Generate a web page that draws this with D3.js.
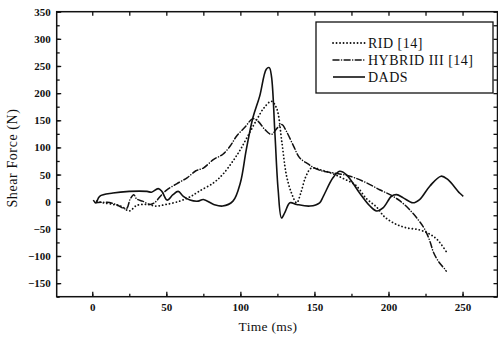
<!DOCTYPE html>
<html>
<head>
<meta charset="utf-8">
<script src="https://cdn.jsdelivr.net/npm/d3@7"></script>
<style>
  body { margin: 0; background: #fff; }
  text { font-family: "Liberation Serif", "Times New Roman", serif; fill: #111; }
</style>
</head>
<body>
<script>
// time (ms) / shear force (N)
const ridT = [3, 7, 14, 20, 25, 30, 37, 43, 50, 59, 66, 72, 82, 88, 95, 100, 105, 111, 116, 121, 124.5, 128, 131, 134.5, 138, 141, 144, 148, 155, 162, 170, 178, 185, 192, 197, 204, 212, 221, 228, 233, 239];
const ridV = [1, -2, -5, -9, -17, -7, -5, -8, -5, 1, 9, 19, 35, 50, 75, 96, 121, 151, 173, 185, 172, 110, 50, 16, -2, 18, 45, 62, 58, 52, 42, 30, 6, -10, -27, -40, -48, -52, -60, -70, -92];

const hybT = [2, 10, 16, 23, 25.5, 28, 30, 34, 39, 42, 46, 50, 57, 64, 70, 75, 82, 88, 93, 97.5, 103, 108.5, 112, 116.5, 121, 125, 128, 131, 136, 140, 146, 150, 156, 163, 174, 185, 194, 201, 208, 214, 220, 224.5, 228, 230.5, 234.5, 238, 239];
const hybV = [-2, -1, -5, -13, 4, 13, 5, 1, -5, -2, 10, 21, 33, 44, 57, 62, 78, 87, 102, 121, 137, 153, 148, 133, 124, 136, 142, 130, 102, 81, 69, 62, 56, 53, 47, 35, 22, 13, 1, -14, -33, -51, -73, -94, -113, -124, -128];

const dadsT = [0.7, 2.5, 5, 14, 25, 37, 40, 44.5, 47, 50.5, 54.5, 58, 61.5, 66, 71.5, 75, 82, 88, 95, 100, 104, 108.5, 113, 117.5, 119.5, 121, 123.3, 125.5, 127.8, 130, 133.5, 138, 147, 153.5, 156, 162.5, 167, 171.5, 180.5, 187.5, 192, 196.5, 202, 205.5, 210, 216.5, 221, 228, 235.5, 240, 248, 250.5];
const dadsV = [3, -2, 10, 16, 19, 19, 17.5, 24, 19, 3, 13, 19, 10, 3, 1, 4, -5, -8, 1, 35, 96, 155, 194, 244, 247, 231, 127, 22, -30, -20, -2, -5, -8, -2, 10, 44, 56, 50, 16, -8, -17, -11, 10, 13, 7, -2, 4, 29, 47, 41, 16, 10];

const seriesNames = ["RID [14]", "HYBRID III [14]", "DADS"];
const xTicks = [0, 50, 100, 150, 200, 250];
const yTicks = [-150, -100, -50, 0, 50, 100, 150, 200, 250, 300, 350];

const width = 498, height = 339;
const plot = { left: 56.7, right: 497.5, top: 11.7, bottom: 296.7 };

const svg = d3.select("body").append("svg")
  .attr("width", width)
  .attr("height", height);

const x = d3.scaleLinear().domain([-24, 273.6]).range([plot.left, plot.right]);
const y = d3.scaleLinear().domain([-175, 350]).range([plot.bottom, plot.top]);

const minorX = d3.range(0, 275, 25);
const minorY = d3.range(-175, 351, 25);

// frame
svg.append("rect")
  .attr("x", plot.left).attr("y", plot.top)
  .attr("width", plot.right - plot.left).attr("height", plot.bottom - plot.top)
  .attr("fill", "none").attr("stroke", "#111").attr("stroke-width", 1.5);

function cleanAxis(g) {
  g.attr("font-family", null);
  g.select(".domain").remove();
  g.selectAll(".tick line").attr("stroke", "#111").attr("stroke-width", 1.3);
  g.selectAll(".tick text")
    .style("font-family", "'Liberation Serif', serif")
    .style("font-size", "11px").style("font-weight", "bold").attr("fill", "#111");
}

// bottom: minor then major with labels
svg.append("g").attr("transform", `translate(0,${plot.bottom})`)
  .call(d3.axisBottom(x).tickValues(minorX).tickSizeInner(-3).tickSizeOuter(0).tickFormat(""))
  .call(cleanAxis);
svg.append("g").attr("transform", `translate(0,${plot.bottom})`)
  .call(d3.axisBottom(x).tickValues(xTicks).tickSizeInner(-5).tickSizeOuter(0).tickPadding(7))
  .call(cleanAxis);

// top ticks
svg.append("g").attr("transform", `translate(0,${plot.top})`)
  .call(d3.axisTop(x).tickValues(minorX).tickSizeInner(-4).tickSizeOuter(0).tickFormat(""))
  .call(cleanAxis);

// left
svg.append("g").attr("transform", `translate(${plot.left},0)`)
  .call(d3.axisLeft(y).tickValues(minorY).tickSizeInner(-3).tickSizeOuter(0).tickFormat(""))
  .call(cleanAxis);
svg.append("g").attr("transform", `translate(${plot.left},0)`)
  .call(d3.axisLeft(y).tickValues(yTicks).tickSizeInner(-4.5).tickSizeOuter(0).tickPadding(6))
  .call(cleanAxis);

// right
svg.append("g").attr("transform", `translate(${plot.right},0)`)
  .call(d3.axisRight(y).tickValues(minorY).tickSizeInner(-4).tickSizeOuter(0).tickFormat(""))
  .call(cleanAxis);

// axis titles
svg.append("text")
  .attr("x", 268).attr("y", 331)
  .attr("text-anchor", "middle")
  .style("font-size", "13.5px")
  .style("letter-spacing", "0.3px")
  .text("Time (ms)");

svg.append("text")
  .attr("transform", "translate(17,158) rotate(-90)")
  .attr("text-anchor", "middle")
  .style("font-size", "14px")
  .style("letter-spacing", "0.6px")
  .text("Shear  Force (N)");

// lines
const line = (ts, vs) => d3.line()
  .x((d, i) => x(ts[i]))
  .y((d) => y(d))
  .curve(d3.curveCatmullRom.alpha(0.5))(vs);

const styles = [
  { dash: "0.1,3.4", width: 1.8, cap: "round" },
  { dash: "6,2.5,0.1,2.5", width: 1.5, cap: "round" },
  { dash: null, width: 1.6, cap: "butt" }
];

const lines = [[ridT, ridV], [hybT, hybV], [dadsT, dadsV]];
lines.forEach(([ts, vs], i) => {
  svg.append("path")
    .attr("d", line(ts, vs))
    .attr("fill", "none")
    .attr("stroke", "#111")
    .attr("stroke-width", styles[i].width)
    .attr("stroke-linecap", styles[i].cap)
    .attr("stroke-dasharray", styles[i].dash);
});

// legend
const legend = svg.append("g");
legend.append("rect")
  .attr("x", 316).attr("y", 22).attr("width", 177).attr("height", 71)
  .attr("fill", "#fff").attr("stroke", "#111").attr("stroke-width", 1.3);

seriesNames.forEach((name, i) => {
  const ly = 43 + i * 17;
  legend.append("line")
    .attr("x1", 333).attr("x2", 365).attr("y1", ly).attr("y2", ly)
    .attr("stroke", "#111")
    .attr("stroke-width", styles[i].width)
    .attr("stroke-linecap", styles[i].cap)
    .attr("stroke-dasharray", styles[i].dash);
  legend.append("text")
    .attr("x", 368).attr("y", ly + 5)
    .style("font-size", "14px")
    .style("letter-spacing", "0.5px")
    .text(name);
});
</script>
</body>
</html>
